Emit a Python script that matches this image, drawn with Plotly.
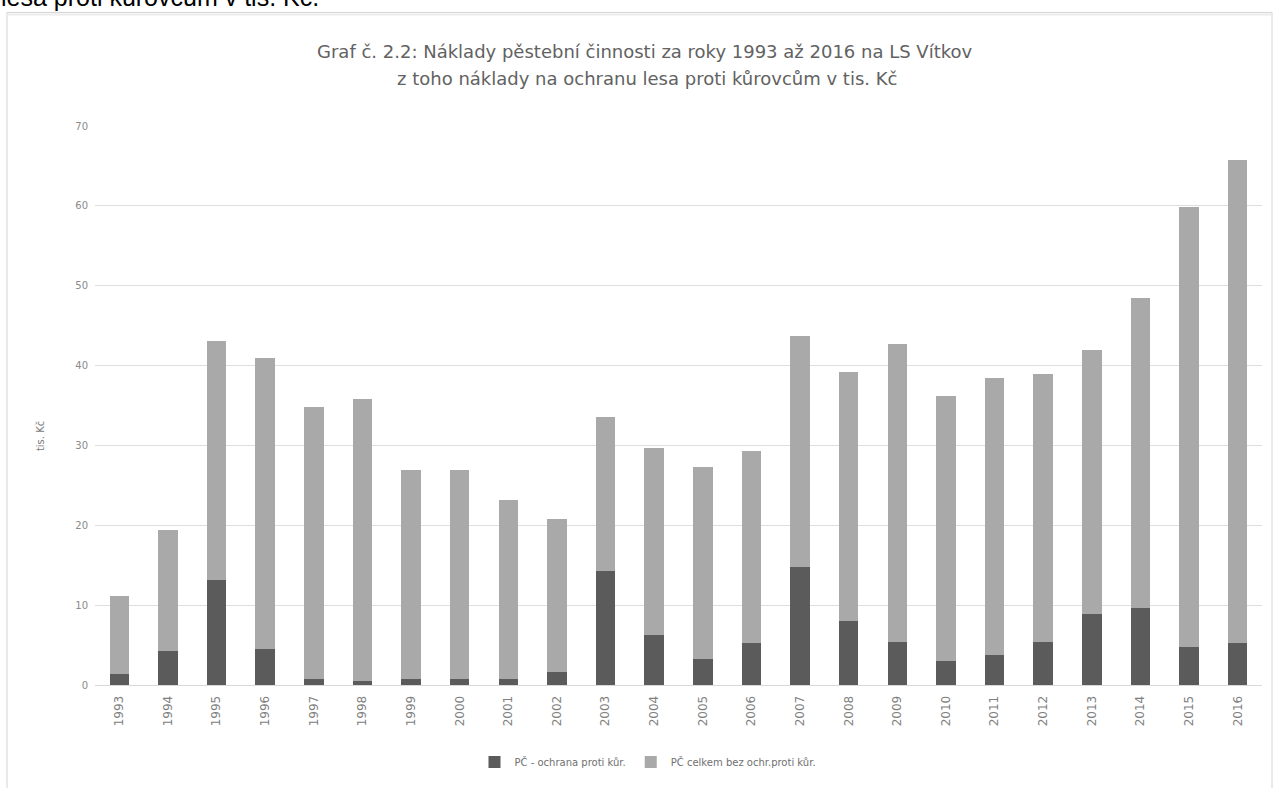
import plotly.graph_objects as go

# Data (tis. Kč)
years = [str(y) for y in range(1993, 2017)]
ochrana = [1.4, 4.2, 13.2, 4.5, 0.8, 0.5, 0.8, 0.8, 0.8, 1.6, 14.3, 6.2,
           3.2, 5.3, 14.8, 8.0, 5.4, 3.0, 3.7, 5.4, 8.9, 9.6, 4.7, 5.3]
celkem = [11.2, 19.4, 43.1, 40.9, 34.8, 35.8, 26.9, 26.9, 23.2, 20.8, 33.6, 29.7,
          27.3, 29.3, 43.7, 39.2, 42.7, 36.2, 38.4, 39.0, 41.9, 48.4, 59.8, 65.7]
bez_ochrany = [round(t - o, 1) for t, o in zip(celkem, ochrana)]

y_ticks = [0, 10, 20, 30, 40, 50, 60, 70]

W, H = 1281, 788
L, R, T, B = 95, 19, 126, 96
PW, PH = W - L - R, H - T - B


def px(x):
    return (x - L) / PW


def py(y):
    return (H - B - y) / PH


DARK = "#5b5b5b"
LIGHT = "#a9a9a9"
TXT = "#6e6e6e"
FONT = "DejaVu Sans"

fig = go.Figure()
fig.add_bar(x=years, y=ochrana, name="PČ - ochrana proti kůr.",
            marker=dict(color=DARK, line=dict(width=0)))
fig.add_bar(x=years, y=bez_ochrany, name="PČ celkem bez ochr.proti kůr.",
            marker=dict(color=LIGHT, line=dict(width=0)))

fig.update_layout(
    width=W, height=H,
    margin=dict(l=L, r=R, t=T, b=B),
    paper_bgcolor="white", plot_bgcolor="white",
    barmode="stack", bargap=0.6,
    font=dict(family=FONT, color=TXT, size=11),
    showlegend=True,
    legend=dict(orientation="h", x=px(648), xanchor="center",
                y=py(770), yanchor="middle",
                font=dict(size=10, color="#707070"),
                itemwidth=30, traceorder="normal", itemclick=False),
)

fig.update_xaxes(
    type="category", tickangle=-90,
    tickfont=dict(size=12, color="#808080"),
    showgrid=False, showline=True, linecolor="#d9d9d9", linewidth=1,
    ticks="", ticklabelstandoff=5,
)
fig.update_yaxes(
    range=[0, 70], tickvals=y_ticks,
    tickfont=dict(size=10, color="#8a8a8a"),
    showgrid=True, gridcolor="#dedede", gridwidth=1,
    zeroline=False, showline=False, ticks="", ticklabelstandoff=6,
)

# Chart frame
fig.add_shape(type="rect", xref="paper", yref="paper",
              x0=px(7), x1=px(1272), y0=py(11), y1=py(805),
              line=dict(color="#d4d4d4", width=1), layer="below")
fig.add_shape(type="line", xref="paper", yref="paper",
              x0=px(8), x1=px(1271), y0=py(13), y1=py(13),
              line=dict(color="#ececec", width=2), layer="below")

P = dict(xref="paper", yref="paper", showarrow=False)
annotations = [
    # Caption line of the surrounding document, cut at the top edge
    dict(text="lesa proti kůrovcům v tis. Kč.", x=px(-1), y=py(12),
         xanchor="left", yanchor="bottom",
         font=dict(family="Liberation Sans", size=25, color="black"), **P),
    # Chart title
    dict(text="Graf č. 2.2: Náklady pěstební činnosti za roky 1993 až 2016 na LS Vítkov",
         x=px(645), y=py(51), xanchor="center", yanchor="middle",
         font=dict(family=FONT, size=18, color="#626262"), **P),
    dict(text="z toho náklady na ochranu lesa proti kůrovcům v tis. Kč",
         x=px(647), y=py(78), xanchor="center", yanchor="middle",
         font=dict(family=FONT, size=18, color="#626262"), **P),
    # Y axis title
    dict(text="tis. Kč", x=px(40), y=py(440), xanchor="center", yanchor="middle",
         textangle=-90,
         font=dict(family=FONT, size=10, color="#7a7a7a"), **P),
]
fig.update_layout(annotations=annotations)

fig.write_html("out.html")
